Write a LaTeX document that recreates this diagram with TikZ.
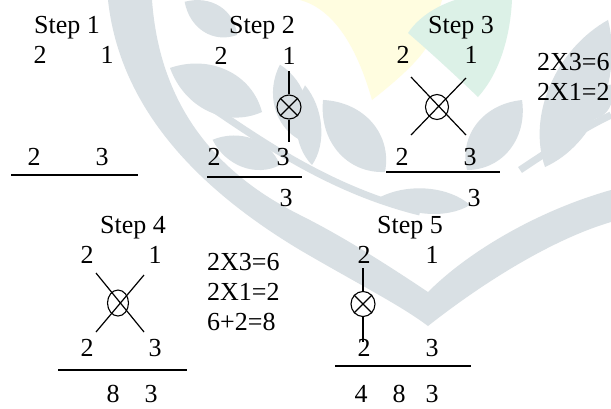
\documentclass[tikz,border=0pt]{standalone}
\usepackage{fontspec}
\setmainfont{Liberation Serif}
\usetikzlibrary{shapes.geometric}

\definecolor{wmgrey}{RGB}{217,224,228}
\definecolor{wmyellow}{RGB}{255,253,224}
\definecolor{wmgreen}{RGB}{220,241,231}

% leaf of the background ornament: base at #1, direction #2 (deg), length #3, width #4
\newcommand\ornleaf[4]{%
  \begin{scope}[shift={#1}, rotate=#2, xscale=#3, yscale=#4]
    \fill[wmgrey] (0,0) .. controls (0.25,0.667) and (0.7,0.667) .. (1,0)
                        .. controls (0.7,-0.667) and (0.25,-0.667) .. (0,0);
  \end{scope}}

\tikzset{
  num/.style={font=\fontsize{26}{30}\selectfont, anchor=base, inner sep=0pt},
  eqn/.style={num, anchor=base west},
  rule/.style={line width=1.4pt},
  link/.style={line width=1.2pt},
  ring/.style 2 args={ellipse, draw, line width=1.1pt, inner sep=0pt,
                      minimum width=#1, minimum height=#2},
}

\begin{document}
\begin{tikzpicture}[x=1pt, y=-1pt]
\useasboundingbox (0,0) rectangle (611,408);
\fill[white] (0,0) rectangle (611,408);

% ---------- background ornament ----------
\fill[wmyellow] (300,0) .. controls (330,8) and (355,40) .. (372,100)
  .. controls (395,82) and (418,62) .. (428,45) -- (442,0) -- cycle;
\fill[wmgreen] (408,33) .. controls (420,15) and (440,5) .. (455,0) -- (512,0)
  .. controls (510,40) and (498,75) .. (478,97)
  .. controls (455,75) and (430,52) .. (408,33) -- cycle;
\fill[wmgrey] (108,0) .. controls (120,110) and (200,190) .. (300,250)
  .. controls (360,285) and (400,305) .. (428,326)
  .. controls (480,285) and (550,240) .. (611,222) -- (611,190)
  .. controls (540,210) and (470,250) .. (428,292)
  .. controls (380,260) and (340,235) .. (300,215)
  .. controls (220,175) and (160,110) .. (152,0) -- cycle;
\draw[wmgrey, line width=7pt] (215,110) .. controls (260,140) and (330,190) .. (420,212);
\draw[wmgrey, line width=7pt] (520,170) .. controls (550,150) and (580,130) .. (611,115);
\ornleaf{(262,112)}{154.4}{102}{45}
\ornleaf{(237,35)}{147.6}{62}{30}
\ornleaf{(300,140)}{104.9}{78}{32}
\ornleaf{(280,165)}{159.5}{72}{30}
\ornleaf{(385,172)}{130.7}{95}{45}
\ornleaf{(312,165)}{95}{80}{25}
\ornleaf{(470,205)}{174.9}{90}{25}
\ornleaf{(467,170)}{51.8}{89}{42}
\ornleaf{(545,167)}{66.8}{160}{55}
\ornleaf{(585,120)}{53.4}{44}{25}

% ---------- Step 1 ----------
\node[num] (s1) at (67,33) {Step 1};
\node[num] (s1t2) at (40,63) {2};
\node[num] (s1t1) at (107,63) {1};
\node[num] (s1b2) at (34,165) {2};
\node[num] (s1b3) at (102,165) {3};
\coordinate (s1l) at (11,175); \coordinate (s1r) at (138,175);
\draw[rule] (s1l) -- (s1r);

% ---------- Step 2 ----------
\node[num] (s2) at (262,33) {Step 2};
\node[num] (s2t2) at (221,64) {2};
\node[num] (s2t1) at (289,64) {1};
\node[ring={24pt}{24pt}] (s2c) at (289,107) {};
\draw[link] (s2c.45) -- (s2c.225) (s2c.135) -- (s2c.315);
\node[num] (s2b2) at (214,165) {2};
\node[num] (s2b3) at (283,165) {3};
\coordinate (s2u) at (289,71); \coordinate (s2d) at (289,142);
\draw[link] (s2u) -- (s2c.north) (s2c.south) -- (s2d);
\coordinate (s2l) at (207,177); \coordinate (s2r) at (302,177);
\draw[rule] (s2l) -- (s2r);
\node[num] (s2r3) at (286,206) {3};

% ---------- Step 3 ----------
\node[num] (s3) at (461,33) {Step 3};
\node[num] (s3t2) at (403,63) {2};
\node[num] (s3t1) at (471,63) {1};
\node[ring={23pt}{25pt}] (s3c) at (437,107) {};
\coordinate (s3a) at (411,77); \coordinate (s3b) at (466,135);
\coordinate (s3p) at (466,78); \coordinate (s3q) at (411,135);
\draw[link] (s3a) -- (s3b) (s3p) -- (s3q);
\node[num] (s3b2) at (402,165) {2};
\node[num] (s3b3) at (470,165) {3};
\coordinate (s3l) at (386,172); \coordinate (s3r) at (500,172);
\draw[rule] (s3l) -- (s3r);
\node[num] (s3r3) at (474,206) {3};
\node[eqn] (s3e1) at (537,70) {2X3=6};
\node[eqn] (s3e2) at (537,100) {2X1=2};

% ---------- Step 4 ----------
\node[num] (s4) at (133,233) {Step 4};
\node[num] (s4t2) at (87,263) {2};
\node[num] (s4t1) at (155,263) {1};
\node[ring={21pt}{26pt}] (s4c) at (118,303) {};
\coordinate (s4a) at (96,273); \coordinate (s4b) at (144,332);
\coordinate (s4p) at (144,275); \coordinate (s4q) at (96,332);
\draw[link] (s4a) -- (s4b) (s4p) -- (s4q);
\node[num] (s4b2) at (87,356) {2};
\node[num] (s4b3) at (155,356) {3};
\coordinate (s4l) at (58,370); \coordinate (s4r) at (187,370);
\draw[rule] (s4l) -- (s4r);
\node[num] (s4r8) at (113,402) {8};
\node[num] (s4r3) at (151,402) {3};
\node[eqn] (s4e1) at (207,270) {2X3=6};
\node[eqn] (s4e2) at (207,300) {2X1=2};
\node[eqn] (s4e3) at (207,330) {6+2=8};

% ---------- Step 5 ----------
\node[num] (s5) at (410,233) {Step 5};
\node[num] (s5t2) at (364,263) {2};
\node[num] (s5t1) at (432,263) {1};
\node[ring={24pt}{25pt}] (s5c) at (363,304) {};
\draw[link] (s5c.45) -- (s5c.225) (s5c.135) -- (s5c.315);
\coordinate (s5u) at (363,268); \coordinate (s5d) at (363,342);
\draw[link] (s5u) -- (s5c.north) (s5c.south) -- (s5d);
\node[num] (s5b2) at (364,356) {2};
\node[num] (s5b3) at (432,356) {3};
\coordinate (s5l) at (335,366); \coordinate (s5r) at (471,366);
\draw[rule] (s5l) -- (s5r);
\node[num] (s5r4) at (361,402) {4};
\node[num] (s5r8) at (399,402) {8};
\node[num] (s5r3) at (432,402) {3};
\end{tikzpicture}
\end{document}
